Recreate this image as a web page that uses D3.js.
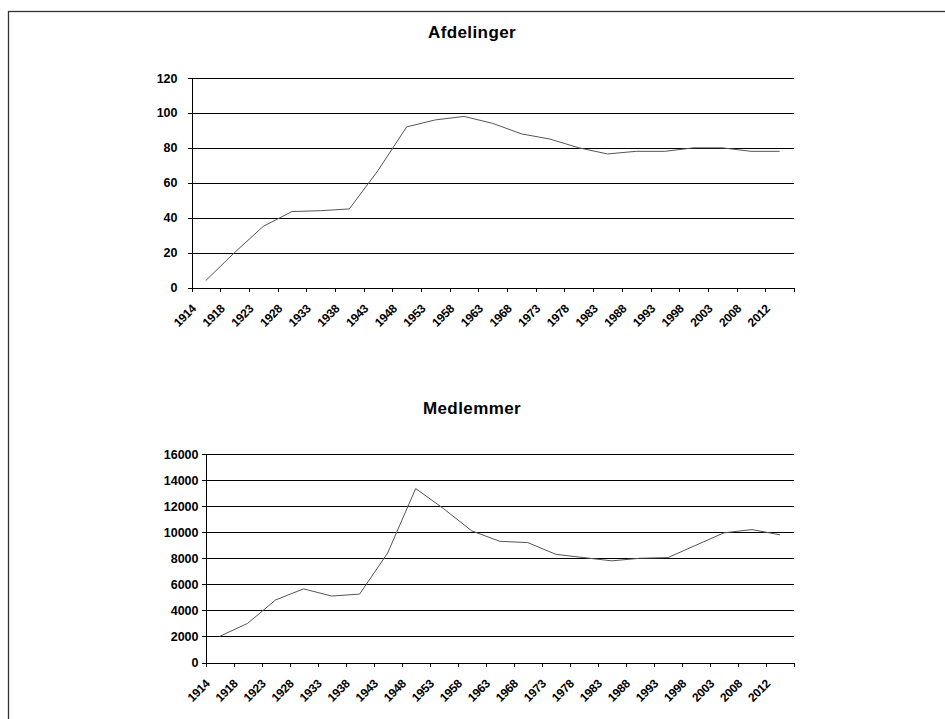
<!DOCTYPE html>
<html>
<head>
<meta charset="utf-8">
<script src="https://cdn.jsdelivr.net/npm/d3@7"></script>
<style>
  body { margin: 0; background: #fff; }
  svg { display: block; font-family: "Liberation Sans", Arial, sans-serif; }
  .axis path, .axis line { stroke: #000; shape-rendering: crispEdges; }
  .grid line { stroke: #000; shape-rendering: crispEdges; }
  .grid path { display: none; }
</style>
</head>
<body>
<script>
"use strict";

// categories (years) shared by both charts
var years = ["1914","1918","1923","1928","1933","1938","1943","1948","1953","1958","1963",
             "1968","1973","1978","1983","1988","1993","1998","2003","2008","2012"];

// number of branches
var afdelinger = [4, 20, 35, 43.5, 44, 45, 67, 92, 96, 98, 94,
                  88, 85, 80, 76.5, 78, 78, 80, 80, 78, 78];

// number of members
var medlemmer = [2000, 3000, 4800, 5650, 5100, 5250, 8400, 13350, 11800, 10100, 9300,
                 9200, 8300, 8050, 7800, 8000, 8050, 9000, 9950, 10200, 9800];

var afdTicks = [0, 20, 40, 60, 80, 100, 120];
var medTicks = [0, 2000, 4000, 6000, 8000, 10000, 12000, 14000, 16000];

var W = 945, H = 719;

var svg = d3.select("body").append("svg")
    .attr("width", W)
    .attr("height", H);

// outer frame (right and bottom edges fall outside the picture)
svg.append("rect")
    .attr("x", 8.5).attr("y", 11.5)
    .attr("width", W + 20).attr("height", H + 20)
    .attr("fill", "none")
    .attr("stroke", "#333")
    .attr("stroke-width", 1.3);

function drawChart(opts) {
  var n = years.length;
  var g = svg.append("g");

  var xBand = d3.scaleBand()
      .domain(years)
      .range([opts.left, opts.right])
      .padding(0);

  var xEdges = d3.scaleLinear()
      .domain([0, n])
      .range([opts.left, opts.right]);

  var y = d3.scaleLinear()
      .domain([0, opts.max])
      .range([opts.bottom, opts.top]);

  // title
  g.append("text")
      .attr("x", 472)
      .attr("y", opts.titleY)
      .attr("text-anchor", "middle")
      .attr("font-size", "17px")
      .attr("font-weight", "bold")
      .attr("letter-spacing", "0.4px")
      .text(opts.title);

  // gridlines
  g.append("g")
      .attr("class", "grid")
      .attr("transform", "translate(" + opts.left + ",0)")
      .call(d3.axisLeft(y).tickValues(opts.ticks.slice(1)).tickSize(-(opts.right - opts.left)).tickFormat(""));

  // y axis
  var gy = g.append("g")
      .attr("class", "axis")
      .attr("transform", "translate(" + opts.left + ",0)")
      .call(d3.axisLeft(y).tickValues(opts.ticks).tickFormat(d3.format("d"))
        .tickSizeInner(4).tickSizeOuter(0).tickPadding(opts.labelGap));
  gy.select(".domain").attr("stroke", "#555");
  gy.selectAll("text")
      .attr("font-size", "12.5px")
      .attr("font-weight", "bold")
      .attr("fill", "#000")
      .attr("font-family", "Liberation Sans, Arial, sans-serif");

  // x axis, ticks between categories
  g.append("g")
      .attr("class", "axis")
      .attr("transform", "translate(0," + opts.bottom + ")")
      .call(d3.axisBottom(xEdges).tickValues(d3.range(n + 1)).tickSizeInner(4).tickSizeOuter(0).tickFormat(""));

  // rotated category labels
  g.append("g").selectAll("text")
    .data(years)
    .join("text")
      .attr("transform", function(d) {
        var cx = xBand(d) + xBand.bandwidth() / 2 - 9;
        return "translate(" + cx + "," + (opts.bottom + 22) + ") rotate(-45)";
      })
      .attr("text-anchor", "end")
      .attr("font-size", "12px")
      .attr("font-weight", "bold")
      .attr("letter-spacing", "-0.3px")
      .text(function(d) { return d; });

  // series line
  var line = d3.line()
      .x(function(d, i) { return xBand(years[i]) + xBand.bandwidth() / 2; })
      .y(function(d) { return y(d); });

  g.append("path")
      .datum(opts.values)
      .attr("fill", "none")
      .attr("stroke", "#555")
      .attr("stroke-width", 1)
      .attr("d", line);
}

drawChart({
  title: "Afdelinger",
  titleY: 38,
  values: afdelinger,
  ticks: afdTicks,
  max: 120,
  left: 191.5, right: 794,
  top: 78, bottom: 287.5,
  labelGap: 10
});

drawChart({
  title: "Medlemmer",
  titleY: 414,
  values: medlemmer,
  ticks: medTicks,
  max: 16000,
  left: 205.5, right: 794,
  top: 454, bottom: 662.5,
  labelGap: 3
});
</script>
</body>
</html>
